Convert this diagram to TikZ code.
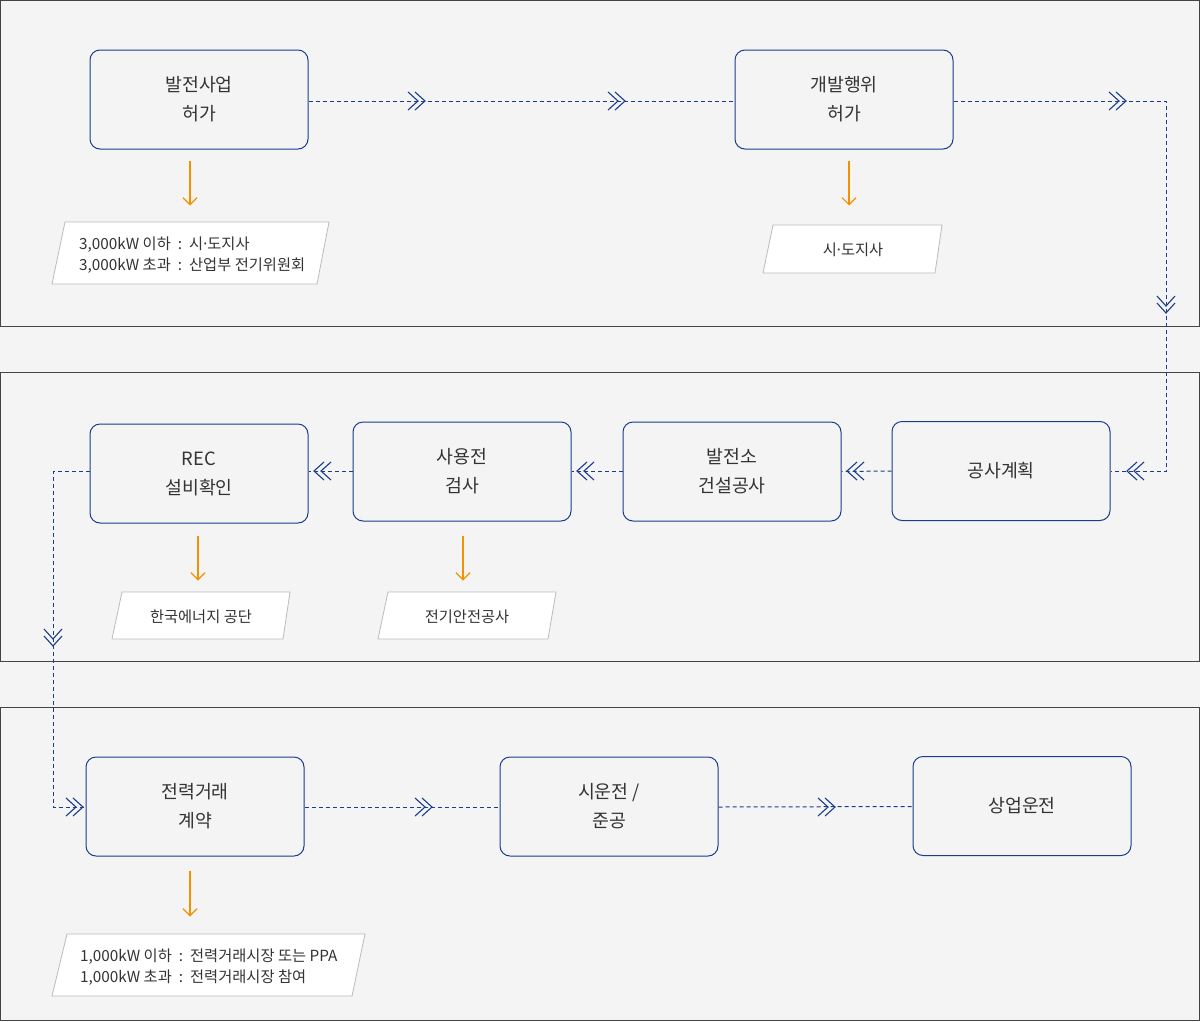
\documentclass[tikz,border=0pt]{standalone}
\usepackage{fontspec}
\setmainfont{Noto Sans CJK KR}
\usetikzlibrary{calc,arrows.meta}
\definecolor{bg}{HTML}{F4F4F4}
\definecolor{framec}{HTML}{444444}
\definecolor{navy}{HTML}{1B3C8C}
\definecolor{org}{HTML}{F39200}
\definecolor{txt}{HTML}{333333}
\definecolor{notebd}{HTML}{BBBBBB}
\newcommand{\mdot}{\kern-2.2pt·\kern-2.2pt}
\newcommand{\clsep}{\hspace{7pt}:\hspace{7pt}}
\begin{document}
\begin{tikzpicture}[x=1pt,y=-1pt,
  panel/.style={draw=framec,line width=1.1pt,fill=bg},
  stepbox/.style={draw=navy,line width=1pt,rounded corners=10pt,fill=bg,
    minimum width=218pt,minimum height=99pt,align=center,inner sep=0pt,
    font=\fontsize{18.3}{29}\selectfont,text=txt},
  flow/.style={draw=navy,line width=1pt,dash pattern=on 4pt off 3pt},
  downarr/.style={draw=org,line width=1.2pt,-{Straight Barb[length=7pt,width=14pt]}},
  notebox/.style={draw=notebd,fill=white,line width=0.8pt},
  notetext/.style={font=\fontsize{15.3}{21}\selectfont,text=txt,align=left,inner sep=0pt},
  chev/.pic={\draw[navy,line width=1.1pt] (-10,-9)--(0,0)--(-10,9) (-17,-9)--(-7,0)--(-17,9);}
]
\fill[bg] (0,0) rectangle (1200,1021);
\useasboundingbox (0,0) rectangle (1200,1021);
% panels
\draw[panel] (0.5,0.5) rectangle (1199.5,326.5);
\draw[panel] (0.5,372.5) rectangle (1199.5,661.5);
\draw[panel] (0.5,707.5) rectangle (1199.5,1020.5);

% boxes
\node[stepbox] (b1) at (199,99.5) {발전사업\\허가};
\node[stepbox] (b2) at (844,99.5) {개발행위\\허가};
\node[stepbox] (b3) at (199,473.5) {REC\\설비확인};
\node[stepbox] (b4) at (462,471.5) {사용전\\검사};
\node[stepbox] (b5) at (732,471.5) {발전소\\건설공사};
\node[stepbox] (b6) at (1001,471) {공사계획};
\node[stepbox] (b7) at (195,806.5) {전력거래\\계약};
\node[stepbox] (b8) at (609,806.5) {시운전 /\\준공};
\node[stepbox] (b9) at (1022,806) {상업운전};

\coordinate (t1) at (1166,101);
\coordinate (t2) at (53,471);

% connectors
\draw[flow] ([yshift=-1.5pt]b1.east) -- ([yshift=-1.5pt]b2.west);
\draw[flow] ([yshift=-1.5pt]b2.east) -- (t1) |- (b6.east);
\draw[flow] (b6.west) -- (b5.east);
\draw[flow] ([yshift=0.5pt]b5.west) -- ([yshift=0.5pt]b4.east);
\draw[flow] ([yshift=0.5pt]b4.west) -- ([yshift=0.5pt]b4.west -| b3.east);
\draw[flow] ([yshift=2.5pt]b3.west) -- (t2) |- ([yshift=-0.5pt]b7.west);
\draw[flow] ([yshift=-0.5pt]b7.east) -- ([yshift=-0.5pt]b8.west);
\draw[flow] ([yshift=-0.5pt]b8.east) -- ([yshift=-0.5pt]b9.west);

% chevrons
\pic at (425,101) {chev};
\pic at (625,101) {chev};
\pic at (1126,101) {chev};
\pic[rotate=-90] at (1166,313) {chev};
\pic[rotate=180] at (1127,471) {chev};
\pic[rotate=180] at (847,471) {chev};
\pic[rotate=180] at (577,471) {chev};
\pic[rotate=180] at (314,471) {chev};
\pic[rotate=-90] at (53,646) {chev};
\pic at (83,807) {chev};
\pic at (432,807) {chev};
\pic at (835,807) {chev};

% notes
\draw[notebox] (65,222) -- (329,222) -- (317,284) -- (52,284) -- cycle;
\node[notetext,anchor=west] (n1) at (79,255) {3,000kW 이하\clsep 시\mdot 도지사\\3,000kW 초과\clsep 산업부 전기위원회};
\draw[notebox] (773,225) -- (942,225) -- (935,273) -- (763,273) -- cycle;
\node[notetext] (n2) at (853,250) {시\mdot 도지사};
\draw[notebox] (122,592) -- (290,592) -- (283,639) -- (112,639) -- cycle;
\node[notetext] (n3) at (201,617) {한국에너지 공단};
\draw[notebox] (388,592) -- (556,592) -- (548,639) -- (378,639) -- cycle;
\node[notetext] (n4) at (467,617) {전기안전공사};
\draw[notebox] (67,934) -- (365,934) -- (352,996) -- (52,996) -- cycle;
\node[notetext,anchor=west] (n5) at (80,967) {1,000kW 이하\clsep 전력거래시장 또는 PPA\\1,000kW 초과\clsep 전력거래시장 참여};

% orange arrows
\draw[downarr] ($(b1.south)+(-9,11)$) -- ($(b1.south)+(-9,56)$);
\draw[downarr] ($(b2.south)+(5,11)$) -- ($(b2.south)+(5,56)$);
\draw[downarr] ($(b3.south)+(-1,12)$) -- ($(b3.south)+(-1,57)$);
\draw[downarr] ($(b4.south)+(1,14)$) -- ($(b4.south)+(1,59)$);
\draw[downarr] ($(b7.south)+(-5,14)$) -- ($(b7.south)+(-5,60)$);
\end{tikzpicture}
\end{document}
